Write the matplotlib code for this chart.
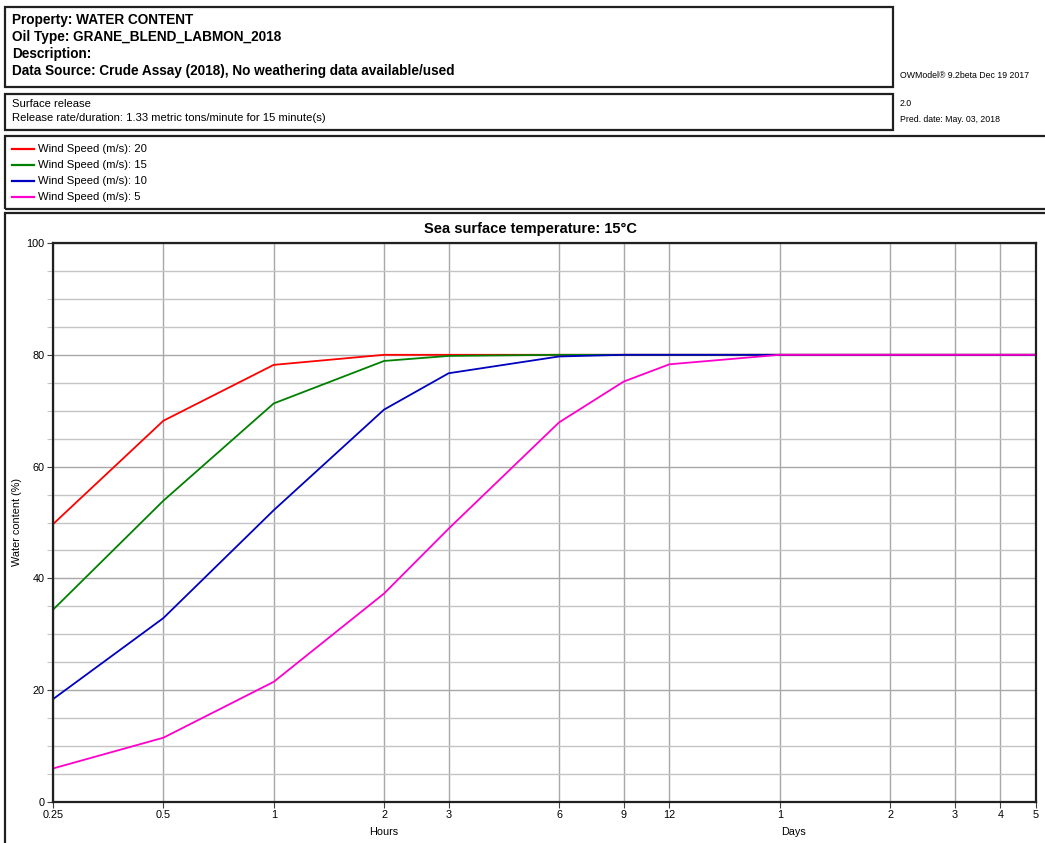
import matplotlib.pyplot as plt
from matplotlib.patches import Rectangle
from matplotlib.ticker import FixedLocator, NullFormatter

plt.rcParams["font.family"] = ["Liberation Sans", "DejaVu Sans"]

W, H = 1045, 843

# time axis (hours) and water content (%) per wind speed
hours = [0.25, 0.5, 1, 2, 3, 6, 9, 12, 24, 48, 72, 96, 120]
wind_labels = ["Wind Speed (m/s): 20", "Wind Speed (m/s): 15",
               "Wind Speed (m/s): 10", "Wind Speed (m/s): 5"]
wind_colors = ["#ff0000", "#008000", "#0000c0", "#ff00cc"]
wc_20 = [49.7, 68.2, 78.2, 80.0, 80.0, 80.0, 80.0, 80.0, 80.0, 80.0, 80.0, 80.0, 80.0]
wc_15 = [34.4, 53.9, 71.3, 78.9, 79.8, 80.0, 80.0, 80.0, 80.0, 80.0, 80.0, 80.0, 80.0]
wc_10 = [18.4, 32.9, 52.2, 70.2, 76.7, 79.7, 80.0, 80.0, 80.0, 80.0, 80.0, 80.0, 80.0]
wc_5 = [6.0, 11.5, 21.5, 37.3, 48.9, 67.9, 75.2, 78.3, 80.0, 80.0, 80.0, 80.0, 80.0]
series = [wc_20, wc_15, wc_10, wc_5]

tick_hours = [0.25, 0.5, 1, 2, 3, 6, 9, 12, 24, 48, 72, 96, 120]
tick_labels = ["0.25", "0.5", "1", "2", "3", "6", "9", "12", "1", "2", "3", "4", "5"]

header_lines = ["Property: WATER CONTENT", "Oil Type: GRANE_BLEND_LABMON_2018",
                "Description:", "Data Source: Crude Assay (2018), No weathering data available/used"]
release_lines = ["Surface release",
                 "Release rate/duration: 1.33 metric tons/minute for 15 minute(s)"]


def fx(x):
    return x / W


def fy(y):
    return 1 - y / H


def box(fig, x0, y0, x1, y1):
    fig.add_artist(Rectangle((fx(x0), fy(y1)), fx(x1 - x0), (y1 - y0) / H,
                             transform=fig.transFigure, fill=False,
                             edgecolor="#202020", linewidth=1.6, clip_on=False))


fig = plt.figure(figsize=(W / 100, H / 100), dpi=100)

# header boxes
box(fig, 5, 7, 893, 87)
box(fig, 5, 94, 893, 130)
box(fig, 5, 136, 1060, 209)
box(fig, 5, 213, 1060, 860)

for i, txt in enumerate(header_lines):
    fig.text(fx(12), fy(20 + 17 * i), txt, fontsize=9.8, fontweight="bold",
             va="center", ha="left")
for i, txt in enumerate(release_lines):
    fig.text(fx(12), fy(104 + 14 * i), txt, fontsize=8.1, va="center", ha="left")

fig.text(fx(900), fy(75), "OWModel\u00ae 9.2beta Dec 19 2017", fontsize=6.3, va="center")
fig.text(fx(900), fy(104), "2.0", fontsize=6.3, va="center")
fig.text(fx(900), fy(120), "Pred. date: May. 03, 2018", fontsize=6.3, va="center")

# legend box entries
for i, (lab, col) in enumerate(zip(wind_labels, wind_colors)):
    yy = 149 + 16 * i
    fig.add_artist(plt.Line2D([fx(12), fx(34)], [fy(yy), fy(yy)], color=col,
                              linewidth=1.6, transform=fig.transFigure))
    fig.text(fx(38), fy(yy), lab, fontsize=8.1, va="center", ha="left")

# main chart
ax = fig.add_axes([fx(53), fy(802), fx(1036 - 53), (802 - 243) / H])
for vals, col in zip(series, wind_colors):
    ax.plot(hours, vals, color=col, linewidth=1.3)

ax.set_xscale("log")
ax.set_xlim(0.25, 120)
ax.set_ylim(0, 100)
ax.xaxis.set_major_locator(FixedLocator(tick_hours))
ax.xaxis.set_minor_locator(FixedLocator([]))
ax.set_xticklabels(tick_labels)
ax.xaxis.set_minor_formatter(NullFormatter())
ax.set_yticks(range(0, 101, 20))
ax.set_yticks(range(0, 101, 5), minor=True)

ax.grid(which="major", axis="both", color="#a8a8a8", linewidth=1.0)
ax.grid(which="minor", axis="y", color="#c4c4c4", linewidth=1.0)
ax.set_axisbelow(True)

for sp in ax.spines.values():
    sp.set_linewidth(1.6)
    sp.set_color("#202020")

ax.tick_params(which="major", length=4, width=0.8, color="#404040",
               labelsize=7.8, pad=2)
ax.tick_params(which="minor", axis="y", length=4, width=0.8, color="#c4c4c4")

fig.text(fx(531), fy(229), "Sea surface temperature: 15\u00b0C", fontsize=10.5,
         fontweight="bold", ha="center", va="center")
fig.text(fx(17), fy(522), "Water content (%)", fontsize=7.8, rotation=90,
         ha="center", va="center")

fig.text(fx(384), fy(832), "Hours", fontsize=7.8, ha="center", va="center")
fig.text(fx(793), fy(832), "Days", fontsize=7.8, ha="center", va="center")

fig.savefig("out.png", dpi=100)
